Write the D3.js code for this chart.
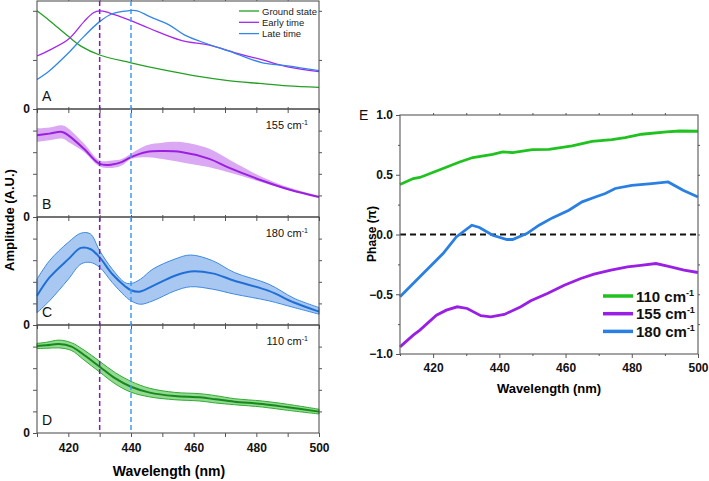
<!DOCTYPE html>
<html>
<head>
  <meta charset="utf-8">
  <title>Amplitude and phase spectra</title>
  <script src="https://d3js.org/d3.v7.min.js"></script>
  <style>
    body { margin: 0; background: #fff; }
    text { font-family: "Liberation Sans", Arial, sans-serif; }
    .tick text { font-weight: bold; font-size: 12px; fill: #111; }
    .tick line { stroke: #555; }
  </style>
</head>
<body>
  <svg id="chart"></svg>

  <script>
    // Panel A: normalised spectra
    var wlGround = [410, 414, 420, 424, 430, 440, 450, 460, 471, 481, 490, 500];
    var ground = [1.0, 0.90, 0.74, 0.64, 0.55, 0.47, 0.40, 0.34, 0.29, 0.26, 0.235, 0.22];
    var wlEarly = [410, 414, 420, 425, 428, 430, 433, 440, 446, 456, 465, 473, 482, 490, 500];
    var early = [0.54, 0.60, 0.71, 0.89, 0.98, 1.0, 0.98, 0.90, 0.82, 0.70, 0.65, 0.575, 0.50, 0.43, 0.38];
    var wlLate = [410, 414, 420, 425, 430, 434, 439, 442, 446, 452, 457, 462, 473, 482, 490, 500];
    var late = [0.30, 0.39, 0.57, 0.74, 0.89, 0.97, 1.0, 1.0, 0.94, 0.86, 0.755, 0.69, 0.57, 0.47, 0.44, 0.39];

    // Panel B: 155 cm-1
    var wlB = [410, 414, 418, 420, 425, 430, 434, 437, 440, 445, 450, 456, 465, 471, 482, 491, 500];
    var amp155 = [3.78, 3.86, 3.94, 3.78, 3.16, 2.46, 2.43, 2.54, 2.77, 3.01, 3.05, 3.01, 2.69, 2.30, 1.68, 1.25, 0.93];
    var amp155Hi = [4.10, 4.14, 4.25, 4.10, 3.40, 2.62, 2.62, 2.69, 2.93, 3.32, 3.44, 3.47, 3.16, 2.69, 1.84, 1.34, 0.98];
    var amp155Lo = [3.47, 3.55, 3.63, 3.47, 3.01, 2.34, 2.27, 2.38, 2.69, 2.77, 2.69, 2.54, 2.30, 2.07, 1.60, 1.21, 0.90];

    // Panel C: 180 cm-1
    var wlC = [410, 414, 420, 424, 427, 430, 434, 438, 440, 443, 447, 454, 459, 466, 473, 484, 492, 500];
    var amp180 = [1.35, 2.20, 3.05, 3.57, 3.52, 3.13, 2.36, 1.81, 1.61, 1.55, 1.81, 2.28, 2.48, 2.39, 2.05, 1.58, 1.04, 0.62];
    var amp180Hi = [2.12, 2.98, 3.83, 4.25, 4.22, 3.44, 2.59, 1.97, 1.92, 2.12, 2.59, 3.05, 3.24, 2.98, 2.43, 1.89, 1.24, 0.81];
    var amp180Lo = [0.57, 1.12, 2.12, 2.82, 2.90, 2.67, 1.97, 1.35, 1.12, 0.96, 1.12, 1.58, 1.77, 1.66, 1.43, 1.12, 0.81, 0.50];

    // Panel D: 110 cm-1
    var wlD = [410, 413, 417, 421, 425, 430, 435, 440, 446, 454, 462, 467, 473, 482, 490, 500];
    var amp110 = [4.03, 4.06, 4.12, 4.00, 3.61, 3.07, 2.53, 2.14, 1.87, 1.71, 1.65, 1.56, 1.45, 1.34, 1.19, 0.99];
    var amp110Hi = [4.15, 4.20, 4.30, 4.18, 3.84, 3.32, 2.79, 2.39, 2.07, 1.88, 1.82, 1.73, 1.59, 1.48, 1.33, 1.10];
    var amp110Lo = [3.91, 3.92, 3.94, 3.82, 3.38, 2.82, 2.27, 1.89, 1.67, 1.54, 1.48, 1.39, 1.31, 1.20, 1.05, 0.88];

    // Panel E: phase
    var wlPh110 = [410, 414, 416, 423, 428, 432, 438, 441, 444, 450, 455, 462, 468, 474, 478, 483, 490.5, 494.5, 500];
    var ph110 = [0.418, 0.468, 0.477, 0.552, 0.607, 0.644, 0.671, 0.691, 0.686, 0.711, 0.713, 0.741, 0.78, 0.794, 0.811, 0.839, 0.858, 0.866, 0.864];
    var wlPh155 = [410, 414, 416, 421, 424, 427.3, 430.3, 434.4, 437.4, 441.5, 446.5, 449.5, 454.5, 459.6, 464.6, 468.6, 473.7, 478.7, 482.7, 487.3, 490.8, 495.8, 500];
    var ph155 = [-0.94, -0.842, -0.80, -0.675, -0.633, -0.605, -0.619, -0.68, -0.689, -0.669, -0.605, -0.555, -0.493, -0.424, -0.368, -0.332, -0.298, -0.271, -0.259, -0.243, -0.265, -0.298, -0.318];
    var wlPh180 = [410, 416, 423, 427, 431.7, 434, 438, 442.3, 444, 448.3, 452, 456, 461, 465, 469, 472, 475, 480, 486, 491, 495.5, 500];
    var ph180 = [-0.52, -0.354, -0.159, -0.02, 0.078, 0.059, -0.006, -0.042, -0.042, 0.008, 0.078, 0.139, 0.203, 0.273, 0.314, 0.343, 0.385, 0.412, 0.426, 0.44, 0.370, 0.314];

    var xTicks = [410, 420, 430, 440, 450, 460, 470, 480, 490, 500];
    var xLabels = [420, 440, 460, 480, 500];
    var phTicks = [-1.0, -0.5, 0.0, 0.5, 1.0];

    function pts(xs, ys) { return xs.map(function(d, i) { return [d, ys[i]]; }); }

    var smooth = d3.curveCatmullRom.alpha(0.5);

    var svg = d3.select('#chart').attr('width', 709).attr('height', 481);

    // ---------- left stack ----------
    var left = 37, right = 319, panelH = 108;
    var x = d3.scaleLinear().domain([410, 500]).range([left, right]);

    var panels = [
      { top: 1, max: 1.1, ticks: [0, 0.5, 1], letter: 'A' },
      { top: 109, max: 5, ticks: [0, 1, 2, 3, 4], letter: 'B', label: '155',
        wl: wlB, mid: amp155, hi: amp155Hi, lo: amp155Lo, band: '#dba9f3', edge: 'none', line: '#9b1fe0' },
      { top: 217, max: 5, ticks: [0, 1, 2, 3, 4], letter: 'C', label: '180',
        wl: wlC, mid: amp180, hi: amp180Hi, lo: amp180Lo, band: '#a9c8f1', edge: '#3d8ae3', line: '#1f6fd6' },
      { top: 325, max: 5, ticks: [0, 1, 2, 3, 4], letter: 'D', label: '110',
        wl: wlD, mid: amp110, hi: amp110Hi, lo: amp110Lo, band: '#93d893', edge: '#31ad31', line: '#17891a' }
    ];

    panels.forEach(function(p, idx) {
      var y = d3.scaleLinear().domain([0, p.max]).range([p.top + panelH, p.top]);
      var g = svg.append('g');

      if (p.wl) {
        var data = p.wl.map(function(w, i) { return { w: w, m: p.mid[i], h: p.hi[i], l: p.lo[i] }; });
        g.append('path')
          .datum(data)
          .attr('fill', p.band)
          .attr('stroke', p.edge)
          .attr('stroke-width', 1)
          .attr('d', d3.area().curve(smooth)
            .x(function(d) { return x(d.w); })
            .y0(function(d) { return y(d.l); })
            .y1(function(d) { return y(d.h); }));
        g.append('path')
          .datum(data)
          .attr('fill', 'none')
          .attr('stroke', p.line)
          .attr('stroke-width', 2)
          .attr('d', d3.line().curve(smooth)
            .x(function(d) { return x(d.w); })
            .y(function(d) { return y(d.m); }));

        var lab = g.append('text')
          .attr('x', 308).attr('y', p.top + 20)
          .attr('text-anchor', 'end')
          .attr('font-size', 11).attr('fill', '#111')
          .text(p.label + ' cm');
        lab.append('tspan').attr('dy', -4).attr('font-size', 7).text('-1');
      } else {
        var series = [
          { xs: wlGround, ys: ground, c: '#23a023', n: 'Ground state' },
          { xs: wlEarly, ys: early, c: '#a526ee', n: 'Early time' },
          { xs: wlLate, ys: late, c: '#3186e8', n: 'Late time' }
        ];
        series.forEach(function(s) {
          g.append('path')
            .datum(pts(s.xs, s.ys))
            .attr('fill', 'none')
            .attr('stroke', s.c)
            .attr('stroke-width', 1.3)
            .attr('d', d3.line().curve(smooth)
              .x(function(d) { return x(d[0]); })
              .y(function(d) { return y(d[1]); }));
        });
        series.forEach(function(s, i) {
          var ly = 11 + i * 11.3;
          g.append('line').attr('x1', 239).attr('x2', 259).attr('y1', ly).attr('y2', ly)
            .attr('stroke', s.c).attr('stroke-width', 1.3);
          g.append('text').attr('x', 262).attr('y', ly + 3.5)
            .attr('font-size', 9.5).attr('fill', '#222').text(s.n);
        });
      }

      // frame and ticks
      g.append('rect').attr('x', left).attr('y', p.top).attr('width', right - left).attr('height', panelH)
        .attr('fill', 'none').attr('stroke', '#444').attr('stroke-width', 1);

      var ax = g.append('g').attr('transform', 'translate(' + left + ',0)')
        .call(d3.axisLeft(y).tickValues(p.ticks).tickSize(4).tickPadding(3)
          .tickFormat(function(d) { return d === 0 ? '0' : ''; }));
      ax.select('.domain').remove();
      ax.selectAll('text').attr('font-size', 13);

      var axr = g.append('g').attr('transform', 'translate(' + right + ',0)')
        .call(d3.axisRight(y).tickValues(p.ticks.slice(1)).tickSize(3).tickFormat(''));
      axr.select('.domain').remove();

      var bx = g.append('g').attr('transform', 'translate(0,' + (p.top + panelH) + ')')
        .call(d3.axisBottom(x).tickValues(xTicks).tickSize(4).tickPadding(6)
          .tickFormat(function(d) { return (idx === 3 && xLabels.indexOf(d) >= 0) ? d : ''; }));
      bx.select('.domain').remove();

      var tx = g.append('g').attr('transform', 'translate(0,' + p.top + ')')
        .call(d3.axisTop(x).tickValues(xTicks.slice(1, -1)).tickSize(2).tickFormat(''));
      tx.select('.domain').remove();

      g.append('text').attr('x', 42).attr('y', p.top + panelH - 8)
        .attr('font-size', 14).attr('fill', '#111').text(p.letter);
    });

    // dashed markers at 430 and 440 nm
    [[430, '#7a1fb5'], [440, '#3f9bf0']].forEach(function(m) {
      svg.append('line')
        .attr('x1', x(m[0])).attr('x2', x(m[0]))
        .attr('y1', 1).attr('y2', 433)
        .attr('stroke', m[1]).attr('stroke-width', 1.5)
        .attr('stroke-dasharray', '5,3');
    });

    svg.append('text').attr('x', 169).attr('y', 476)
      .attr('text-anchor', 'middle').attr('font-size', 14).attr('font-weight', 'bold')
      .text('Wavelength (nm)');
    svg.append('text').attr('transform', 'translate(14,220) rotate(-90)')
      .attr('text-anchor', 'middle').attr('font-size', 13).attr('font-weight', 'bold')
      .text('Amplitude (A.U.)');

    // ---------- panel E ----------
    var ex = d3.scaleLinear().domain([410, 500]).range([400, 698]);
    var ey = d3.scaleLinear().domain([-1, 1]).range([354, 115]);
    var e = svg.append('g');

    e.append('line').attr('x1', ex(410)).attr('x2', ex(500)).attr('y1', ey(0)).attr('y2', ey(0))
      .attr('stroke', '#111').attr('stroke-width', 1.8).attr('stroke-dasharray', '6,4');

    var phase = [
      { xs: wlPh110, ys: ph110, c: '#1fc21f', n: '110' },
      { xs: wlPh155, ys: ph155, c: '#9a1fe4', n: '155' },
      { xs: wlPh180, ys: ph180, c: '#2a7fe2', n: '180' }
    ];
    phase.forEach(function(s) {
      e.append('path')
        .datum(pts(s.xs, s.ys))
        .attr('fill', 'none')
        .attr('stroke', s.c)
        .attr('stroke-width', 2.8)
        .attr('d', d3.line()
          .x(function(d) { return ex(d[0]); })
          .y(function(d) { return ey(d[1]); }));
    });

    e.append('rect').attr('x', 400).attr('y', 115).attr('width', 298).attr('height', 239)
      .attr('fill', 'none').attr('stroke', '#666').attr('stroke-width', 1.2);

    var eyAx = e.append('g').attr('transform', 'translate(400,0)')
      .call(d3.axisLeft(ey).tickValues(phTicks).tickSize(4).tickPadding(3)
        .tickFormat(d3.format('.1f')));
    eyAx.select('.domain').remove();
    e.append('g').attr('transform', 'translate(400,0)')
      .call(d3.axisLeft(ey).tickValues([-0.75, -0.25, 0.25, 0.75]).tickSize(2).tickFormat(''))
      .select('.domain').remove();
    e.append('g').attr('transform', 'translate(698,0)')
      .call(d3.axisRight(ey).tickValues([-0.75, -0.5, -0.25, 0, 0.25, 0.5, 0.75]).tickSize(2).tickFormat(''))
      .select('.domain').remove();

    var exAx = e.append('g').attr('transform', 'translate(0,354)')
      .call(d3.axisBottom(ex).tickValues(xLabels).tickSize(4).tickPadding(5));
    exAx.select('.domain').remove();
    e.append('g').attr('transform', 'translate(0,354)')
      .call(d3.axisBottom(ex).tickValues([410, 430, 450, 470, 490]).tickSize(2).tickFormat(''))
      .select('.domain').remove();
    e.append('g').attr('transform', 'translate(0,115)')
      .call(d3.axisTop(ex).tickValues(d3.range(420, 500, 10)).tickSize(2).tickFormat(''))
      .select('.domain').remove();

    e.append('text').attr('x', 549).attr('y', 393)
      .attr('text-anchor', 'middle').attr('font-size', 13).attr('font-weight', 'bold')
      .text('Wavelength (nm)');
    e.append('text').attr('transform', 'translate(376,234) rotate(-90)')
      .attr('text-anchor', 'middle').attr('font-size', 12).attr('font-weight', 'bold')
      .text('Phase (\u03c0)');
    e.append('text').attr('x', 359).attr('y', 120)
      .attr('font-size', 14).attr('fill', '#111').text('E');

    phase.forEach(function(s, i) {
      var ly = 296 + i * 17.7;
      e.append('line').attr('x1', 603).attr('x2', 633).attr('y1', ly).attr('y2', ly)
        .attr('stroke', s.c).attr('stroke-width', 3.5);
      var t = e.append('text').attr('x', 636).attr('y', ly + 5.5)
        .attr('font-size', 15).attr('font-weight', 'bold').attr('fill', '#111')
        .text(s.n + ' cm');
      t.append('tspan').attr('dy', -6).attr('font-size', 9).text('-1');
    });
  </script>
</body>
</html>
